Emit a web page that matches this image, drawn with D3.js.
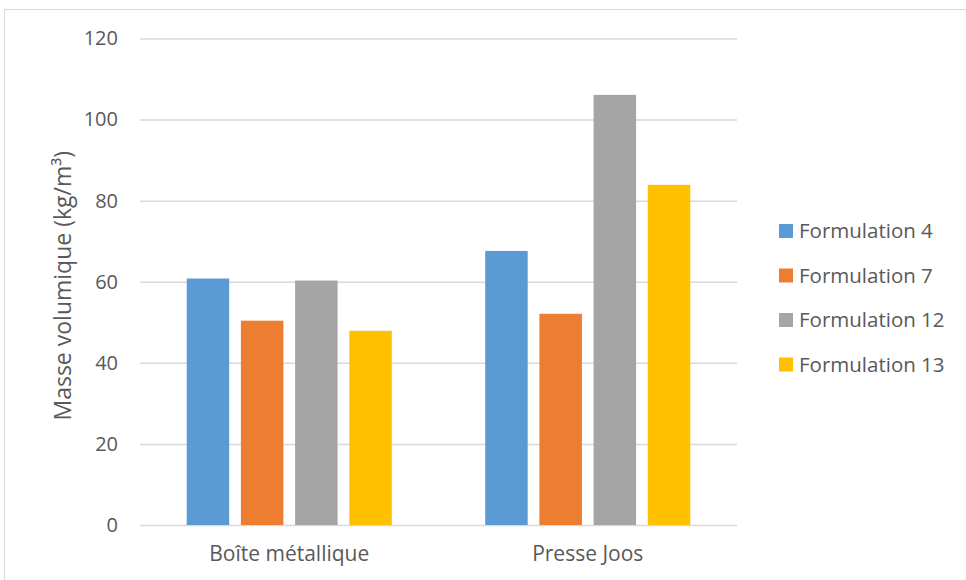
<!DOCTYPE html>
<html>
<head>
<meta charset="utf-8">
<script src="https://cdn.jsdelivr.net/npm/d3@7"></script>
<style>
  body { margin: 0; background: #fff; }
  svg { display: block; }
  svg text { font-family: "Open Sans", "Noto Sans", sans-serif; }
</style>
</head>
<body>
<div id="chart"></div>
<script>
// categories and series
const categories = ["Boîte métallique", "Presse Joos"];
const seriesNames = ["Formulation 4", "Formulation 7", "Formulation 12", "Formulation 13"];
const seriesColors = ["#5b9bd5", "#ed7d31", "#a5a5a5", "#ffc000"];
const f4 = [60.8, 67.6];
const f7 = [50.4, 52.1];
const f12 = [60.3, 106.1];
const f13 = [47.9, 83.9];
const yTicks = [0, 20, 40, 60, 80, 100, 120];
const yTitle = "Masse volumique (kg/m³)";

const seriesValues = [f4, f7, f12, f13];
const data = categories.map((c, i) => ({
  cat: c,
  vals: seriesNames.map((s, j) => ({ s: s, v: seriesValues[j][i], color: seriesColors[j] }))
}));

const width = 966, height = 580;
const margin = { left: 140, right: 229, top: 38.5, bottom: 55 };
const textColor = "#595959";
const fontSize = "20px";

const svg = d3.select("#chart").append("svg")
  .attr("width", width)
  .attr("height", height);

// outer chart frame
svg.append("rect")
  .attr("x", 4.5).attr("y", 9.5)
  .attr("width", width + 10).attr("height", height + 10)
  .attr("fill", "none")
  .attr("stroke", "#d9d9d9");

const x0 = d3.scaleBand()
  .domain(categories)
  .range([margin.left, width - margin.right]);

const x1 = d3.scaleBand()
  .domain(seriesNames)
  .range([0, x0.bandwidth()])
  .paddingInner(0.216)
  .paddingOuter(0.862);

const y = d3.scaleLinear()
  .domain([0, 120])
  .range([height - margin.bottom, margin.top]);

// gridlines + tick labels
const yAxis = d3.axisLeft(y)
  .tickValues(yTicks)
  .tickSize(-(width - margin.right - margin.left))
  .tickPadding(22);

const gy = svg.append("g")
  .attr("transform", `translate(${margin.left},0)`)
  .call(yAxis);
gy.select(".domain").remove();
gy.selectAll(".tick line")
  .attr("stroke", "#d9d9d9")
  .attr("stroke-width", 1.5);
gy.selectAll(".tick text")
  .attr("fill", textColor)
  .style("font-size", fontSize);

// bars
const groups = svg.append("g").selectAll("g")
  .data(data)
  .join("g")
  .attr("transform", d => `translate(${x0(d.cat)},0)`);

groups.selectAll("rect")
  .data(d => d.vals)
  .join("rect")
  .attr("x", d => x1(d.s))
  .attr("y", d => y(d.v))
  .attr("width", x1.bandwidth())
  .attr("height", d => y(0) - y(d.v))
  .attr("fill", d => d.color);

// category labels
const xAxis = d3.axisBottom(x0).tickSize(0).tickPadding(21);
const gx = svg.append("g")
  .attr("transform", `translate(0,${y(0)})`)
  .call(xAxis);
gx.select(".domain").remove();
gx.selectAll(".tick text")
  .attr("fill", textColor)
  .style("font-size", "21px");

// y axis title
svg.append("text")
  .attr("transform", `translate(71,${(y(0) + y(120)) / 2 + 4}) rotate(-90)`)
  .attr("text-anchor", "middle")
  .attr("fill", textColor)
  .style("font-size", "23px")
  .text(yTitle);

// legend
const legend = svg.append("g").selectAll("g")
  .data(seriesNames)
  .join("g")
  .attr("transform", (d, i) => `translate(779,${231 + i * 44.5})`);

legend.append("rect")
  .attr("x", 0).attr("y", -7)
  .attr("width", 14).attr("height", 14)
  .attr("fill", (d, i) => seriesColors[i]);

legend.append("text")
  .attr("x", 20)
  .attr("dy", "0.35em")
  .attr("fill", textColor)
  .style("font-size", "20.5px")
  .text(d => d);
</script>
</body>
</html>
